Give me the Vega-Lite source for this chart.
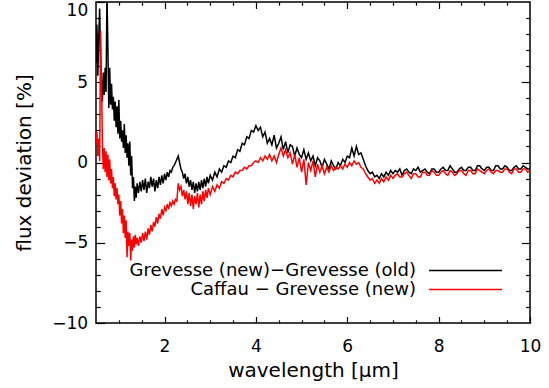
{
  "$schema": "https://vega.github.io/schema/vega-lite/v6.json",
  "width": 434,
  "height": 321,
  "autosize": {"type": "none"},
  "padding": {"left": 96, "top": 2, "right": 19, "bottom": 65},
  "background": "white",
  "config": {
    "view": {"stroke": "black", "strokeWidth": 1.5},
    "axis": {
      "grid": false,
      "domain": false,
      "tickColor": "black",
      "tickWidth": 1.2,
      "labelFont": "DejaVu Sans",
      "labelFontSize": 17,
      "labelColor": "black",
      "titleFont": "DejaVu Sans",
      "titleFontSize": 20,
      "titleFontWeight": "normal",
      "titleColor": "black"
    },
    "legend": {
      "orient": "none",
      "title": null,
      "padding": 0,
      "symbolType": "stroke",
      "symbolSize": 5329,
      "symbolStrokeWidth": 1.5,
      "labelAlign": "right",
      "labelBaseline": "middle",
      "labelOffset": -87,
      "labelFont": "DejaVu Sans",
      "labelFontSize": 18,
      "labelColor": "black",
      "labelLimit": 0
    }
  },
  "datasets": {
    "spectra": [
      {"w": 0.50, "grev": 6.2, "caff": 1.2},
      {"w": 0.52, "grev": 8.6, "caff": 1.9},
      {"w": 0.54, "grev": 5.4, "caff": 0.4},
      {"w": 0.56, "grev": 7.8, "caff": 1.5},
      {"w": 0.58, "grev": 9.6, "caff": 0.1},
      {"w": 0.60, "grev": 6.4, "caff": 8.2},
      {"w": 0.62, "grev": 5.0, "caff": 5.1},
      {"w": 0.64, "grev": 3.8, "caff": 1.3},
      {"w": 0.66, "grev": 5.6, "caff": -0.4},
      {"w": 0.68, "grev": 4.2, "caff": 0.9},
      {"w": 0.70, "grev": 5.9, "caff": -0.6},
      {"w": 0.72, "grev": 4.4, "caff": 0.7},
      {"w": 0.74, "grev": 10.6, "caff": -0.9},
      {"w": 0.76, "grev": 7.2, "caff": 0.5},
      {"w": 0.78, "grev": 3.4, "caff": -1.1},
      {"w": 0.80, "grev": 5.9, "caff": 0.2},
      {"w": 0.82, "grev": 3.6, "caff": -1.3},
      {"w": 0.84, "grev": 4.9, "caff": -0.4},
      {"w": 0.86, "grev": 3.3, "caff": -1.6},
      {"w": 0.88, "grev": 4.1, "caff": -0.9},
      {"w": 0.90, "grev": 2.6, "caff": -2.1},
      {"w": 0.92, "grev": 3.8, "caff": -1.3},
      {"w": 0.94, "grev": 2.2, "caff": -2.3},
      {"w": 0.96, "grev": 3.5, "caff": -1.6},
      {"w": 0.98, "grev": 1.8, "caff": -2.6},
      {"w": 1.00, "grev": 3.9, "caff": -2.0},
      {"w": 1.02, "grev": 1.5, "caff": -3.3},
      {"w": 1.04, "grev": 2.6, "caff": -2.4},
      {"w": 1.06, "grev": 1.3, "caff": -3.8},
      {"w": 1.08, "grev": 2.0, "caff": -2.9},
      {"w": 1.10, "grev": 0.9, "caff": -4.4},
      {"w": 1.12, "grev": 2.4, "caff": -3.3},
      {"w": 1.14, "grev": 0.6, "caff": -4.7},
      {"w": 1.16, "grev": 1.7, "caff": -3.6},
      {"w": 1.18, "grev": 0.3, "caff": -5.9},
      {"w": 1.20, "grev": 1.2, "caff": -4.3},
      {"w": 1.22, "grev": -0.2, "caff": -5.2},
      {"w": 1.24, "grev": 1.3, "caff": -4.4},
      {"w": 1.26, "grev": -0.8, "caff": -6.1},
      {"w": 1.28, "grev": 0.4, "caff": -4.8},
      {"w": 1.30, "grev": -1.6, "caff": -5.5},
      {"w": 1.32, "grev": -0.9, "caff": -4.6},
      {"w": 1.34, "grev": -2.4, "caff": -5.3},
      {"w": 1.36, "grev": -1.5, "caff": -4.5},
      {"w": 1.38, "grev": -2.2, "caff": -5.1},
      {"w": 1.40, "grev": -1.3, "caff": -4.7},
      {"w": 1.43, "grev": -1.9, "caff": -5.2},
      {"w": 1.46, "grev": -1.2, "caff": -4.6},
      {"w": 1.49, "grev": -1.8, "caff": -5.0},
      {"w": 1.52, "grev": -1.1, "caff": -4.4},
      {"w": 1.55, "grev": -1.7, "caff": -4.9},
      {"w": 1.58, "grev": -1.0, "caff": -4.3},
      {"w": 1.61, "grev": -1.9, "caff": -4.8},
      {"w": 1.64, "grev": -1.2, "caff": -4.1},
      {"w": 1.67, "grev": -1.6, "caff": -4.5},
      {"w": 1.70, "grev": -0.9, "caff": -3.9},
      {"w": 1.73, "grev": -1.5, "caff": -4.3},
      {"w": 1.76, "grev": -1.0, "caff": -3.7},
      {"w": 1.79, "grev": -1.8, "caff": -4.0},
      {"w": 1.82, "grev": -1.1, "caff": -3.4},
      {"w": 1.85, "grev": -1.6, "caff": -3.8},
      {"w": 1.88, "grev": -0.9, "caff": -3.2},
      {"w": 1.91, "grev": -1.4, "caff": -3.5},
      {"w": 1.94, "grev": -0.8, "caff": -2.9},
      {"w": 1.97, "grev": -1.3, "caff": -3.3},
      {"w": 2.00, "grev": -0.7, "caff": -2.8},
      {"w": 2.03, "grev": -1.1, "caff": -3.0},
      {"w": 2.06, "grev": -0.6, "caff": -2.6},
      {"w": 2.09, "grev": -0.9, "caff": -2.9},
      {"w": 2.12, "grev": -0.5, "caff": -2.5},
      {"w": 2.15, "grev": -0.6, "caff": -2.7},
      {"w": 2.18, "grev": -0.3, "caff": -2.4},
      {"w": 2.21, "grev": -0.2, "caff": -2.6},
      {"w": 2.24, "grev": 0.0, "caff": -2.3},
      {"w": 2.27, "grev": 0.2, "caff": -2.4},
      {"w": 2.30, "grev": 0.4, "caff": -1.3},
      {"w": 2.33, "grev": 0.0, "caff": -1.7},
      {"w": 2.36, "grev": -0.4, "caff": -1.5},
      {"w": 2.39, "grev": -0.6, "caff": -2.1},
      {"w": 2.42, "grev": -1.0, "caff": -1.7},
      {"w": 2.45, "grev": -0.7, "caff": -2.3},
      {"w": 2.48, "grev": -1.3, "caff": -1.8},
      {"w": 2.51, "grev": -0.9, "caff": -2.6},
      {"w": 2.54, "grev": -1.5, "caff": -1.9},
      {"w": 2.57, "grev": -1.1, "caff": -2.7},
      {"w": 2.60, "grev": -1.7, "caff": -2.0},
      {"w": 2.63, "grev": -1.2, "caff": -2.9},
      {"w": 2.66, "grev": -1.9, "caff": -2.1},
      {"w": 2.69, "grev": -1.3, "caff": -2.6},
      {"w": 2.72, "grev": -1.8, "caff": -1.9},
      {"w": 2.75, "grev": -1.2, "caff": -2.8},
      {"w": 2.78, "grev": -1.7, "caff": -2.0},
      {"w": 2.81, "grev": -1.1, "caff": -2.6},
      {"w": 2.84, "grev": -1.6, "caff": -1.8},
      {"w": 2.87, "grev": -1.0, "caff": -2.4},
      {"w": 2.90, "grev": -1.5, "caff": -1.7},
      {"w": 2.93, "grev": -0.9, "caff": -2.2},
      {"w": 2.96, "grev": -1.3, "caff": -1.6},
      {"w": 3.00, "grev": -0.8, "caff": -2.0},
      {"w": 3.05, "grev": -1.1, "caff": -1.5},
      {"w": 3.10, "grev": -0.6, "caff": -1.8},
      {"w": 3.15, "grev": -0.9, "caff": -1.4},
      {"w": 3.20, "grev": -0.4, "caff": -1.6},
      {"w": 3.25, "grev": -0.6, "caff": -1.2},
      {"w": 3.30, "grev": -0.2, "caff": -1.3},
      {"w": 3.35, "grev": -0.3, "caff": -1.0},
      {"w": 3.40, "grev": 0.1, "caff": -1.1},
      {"w": 3.45, "grev": 0.0, "caff": -0.8},
      {"w": 3.50, "grev": 0.4, "caff": -0.9},
      {"w": 3.55, "grev": 0.3, "caff": -0.6},
      {"w": 3.60, "grev": 0.8, "caff": -0.7},
      {"w": 3.65, "grev": 0.7, "caff": -0.5},
      {"w": 3.70, "grev": 1.2, "caff": -0.5},
      {"w": 3.75, "grev": 1.1, "caff": -0.3},
      {"w": 3.80, "grev": 1.6, "caff": -0.4},
      {"w": 3.85, "grev": 1.5, "caff": -0.2},
      {"w": 3.90, "grev": 2.0, "caff": -0.2},
      {"w": 3.95, "grev": 1.9, "caff": 0.0},
      {"w": 4.00, "grev": 2.3, "caff": 0.1},
      {"w": 4.05, "grev": 2.0, "caff": 0.0},
      {"w": 4.10, "grev": 2.2, "caff": 0.3},
      {"w": 4.15, "grev": 1.6, "caff": 0.1},
      {"w": 4.20, "grev": 1.9, "caff": 0.4},
      {"w": 4.25, "grev": 1.2, "caff": 0.2},
      {"w": 4.30, "grev": 1.5, "caff": 0.5},
      {"w": 4.35, "grev": 1.1, "caff": 0.1},
      {"w": 4.40, "grev": 1.7, "caff": 0.4},
      {"w": 4.45, "grev": 0.9, "caff": 0.0},
      {"w": 4.50, "grev": 1.2, "caff": 0.5},
      {"w": 4.55, "grev": 1.6, "caff": 0.9},
      {"w": 4.60, "grev": 0.8, "caff": 0.4},
      {"w": 4.65, "grev": 1.3, "caff": 0.8},
      {"w": 4.70, "grev": 0.6, "caff": 0.3},
      {"w": 4.75, "grev": 1.1, "caff": 0.6},
      {"w": 4.80, "grev": 1.0, "caff": -0.1},
      {"w": 4.85, "grev": 0.4, "caff": 0.5},
      {"w": 4.90, "grev": 0.9, "caff": -0.3},
      {"w": 4.95, "grev": 0.5, "caff": 0.3},
      {"w": 5.00, "grev": 0.3, "caff": -0.6},
      {"w": 5.05, "grev": 0.8, "caff": 0.2},
      {"w": 5.10, "grev": 0.2, "caff": -1.4},
      {"w": 5.15, "grev": 0.6, "caff": 0.0},
      {"w": 5.20, "grev": 0.1, "caff": -0.5},
      {"w": 5.25, "grev": 0.4, "caff": 0.1},
      {"w": 5.30, "grev": -0.2, "caff": -0.9},
      {"w": 5.35, "grev": 0.3, "caff": -0.1},
      {"w": 5.40, "grev": 0.1, "caff": -0.6},
      {"w": 5.45, "grev": -0.3, "caff": -0.2},
      {"w": 5.50, "grev": 0.2, "caff": -0.7},
      {"w": 5.55, "grev": -0.1, "caff": -0.3},
      {"w": 5.60, "grev": -0.4, "caff": -0.6},
      {"w": 5.65, "grev": 0.1, "caff": -0.2},
      {"w": 5.70, "grev": -0.2, "caff": -0.5},
      {"w": 5.75, "grev": -0.4, "caff": -0.3},
      {"w": 5.80, "grev": 0.0, "caff": -0.4},
      {"w": 5.85, "grev": -0.2, "caff": -0.2},
      {"w": 5.90, "grev": 0.2, "caff": -0.4},
      {"w": 5.95, "grev": 0.0, "caff": -0.1},
      {"w": 6.00, "grev": 0.4, "caff": -0.3},
      {"w": 6.05, "grev": 0.3, "caff": 0.0},
      {"w": 6.10, "grev": 0.9, "caff": -0.2},
      {"w": 6.15, "grev": 0.4, "caff": 0.1},
      {"w": 6.20, "grev": 1.0, "caff": -0.1},
      {"w": 6.25, "grev": 0.5, "caff": 0.0},
      {"w": 6.30, "grev": 0.6, "caff": -0.3},
      {"w": 6.35, "grev": 0.2, "caff": -0.4},
      {"w": 6.40, "grev": -0.2, "caff": -0.7},
      {"w": 6.45, "grev": -0.5, "caff": -0.9},
      {"w": 6.50, "grev": -0.7, "caff": -1.1},
      {"w": 6.55, "grev": -0.6, "caff": -1.0},
      {"w": 6.60, "grev": -0.9, "caff": -1.3},
      {"w": 6.65, "grev": -0.8, "caff": -1.1},
      {"w": 6.70, "grev": -1.0, "caff": -1.3},
      {"w": 6.75, "grev": -0.7, "caff": -1.0},
      {"w": 6.80, "grev": -0.9, "caff": -1.2},
      {"w": 6.85, "grev": -0.6, "caff": -0.9},
      {"w": 6.90, "grev": -0.8, "caff": -1.1},
      {"w": 6.95, "grev": -0.5, "caff": -0.8},
      {"w": 7.00, "grev": -0.7, "caff": -1.0},
      {"w": 7.05, "grev": -0.5, "caff": -0.8},
      {"w": 7.10, "grev": -0.6, "caff": -0.7},
      {"w": 7.15, "grev": -0.4, "caff": -0.9},
      {"w": 7.20, "grev": -0.8, "caff": -0.9},
      {"w": 7.25, "grev": -0.5, "caff": -0.7},
      {"w": 7.30, "grev": -0.4, "caff": -0.6},
      {"w": 7.35, "grev": -0.6, "caff": -0.8},
      {"w": 7.40, "grev": -0.7, "caff": -1.0},
      {"w": 7.45, "grev": -0.4, "caff": -0.7},
      {"w": 7.50, "grev": -0.5, "caff": -0.7},
      {"w": 7.55, "grev": -0.3, "caff": -0.9},
      {"w": 7.60, "grev": -0.6, "caff": -0.9},
      {"w": 7.65, "grev": -0.5, "caff": -0.6},
      {"w": 7.70, "grev": -0.4, "caff": -0.6},
      {"w": 7.75, "grev": -0.6, "caff": -0.8},
      {"w": 7.80, "grev": -0.7, "caff": -0.8},
      {"w": 7.85, "grev": -0.4, "caff": -0.5},
      {"w": 7.90, "grev": -0.4, "caff": -0.6},
      {"w": 7.95, "grev": -0.6, "caff": -0.8},
      {"w": 8.00, "grev": -0.6, "caff": -0.8},
      {"w": 8.05, "grev": -0.4, "caff": -0.6},
      {"w": 8.10, "grev": -0.3, "caff": -0.5},
      {"w": 8.15, "grev": -0.5, "caff": -0.7},
      {"w": 8.20, "grev": -0.5, "caff": -0.8},
      {"w": 8.25, "grev": -0.2, "caff": -0.5},
      {"w": 8.30, "grev": -0.4, "caff": -0.6},
      {"w": 8.35, "grev": -0.6, "caff": -0.8},
      {"w": 8.40, "grev": -0.6, "caff": -0.7},
      {"w": 8.45, "grev": -0.4, "caff": -0.5},
      {"w": 8.50, "grev": -0.3, "caff": -0.5},
      {"w": 8.55, "grev": -0.5, "caff": -0.7},
      {"w": 8.60, "grev": -0.5, "caff": -0.8},
      {"w": 8.65, "grev": -0.3, "caff": -0.5},
      {"w": 8.70, "grev": -0.3, "caff": -0.5},
      {"w": 8.75, "grev": -0.5, "caff": -0.7},
      {"w": 8.80, "grev": -0.5, "caff": -0.7},
      {"w": 8.85, "grev": -0.2, "caff": -0.4},
      {"w": 8.90, "grev": -0.2, "caff": -0.5},
      {"w": 8.95, "grev": -0.4, "caff": -0.6},
      {"w": 9.00, "grev": -0.5, "caff": -0.7},
      {"w": 9.05, "grev": -0.3, "caff": -0.5},
      {"w": 9.10, "grev": -0.3, "caff": -0.4},
      {"w": 9.15, "grev": -0.5, "caff": -0.6},
      {"w": 9.20, "grev": -0.5, "caff": -0.7},
      {"w": 9.25, "grev": -0.2, "caff": -0.5},
      {"w": 9.30, "grev": -0.2, "caff": -0.5},
      {"w": 9.35, "grev": -0.4, "caff": -0.6},
      {"w": 9.40, "grev": -0.4, "caff": -0.6},
      {"w": 9.45, "grev": -0.2, "caff": -0.4},
      {"w": 9.50, "grev": -0.3, "caff": -0.4},
      {"w": 9.55, "grev": -0.5, "caff": -0.6},
      {"w": 9.60, "grev": -0.5, "caff": -0.7},
      {"w": 9.65, "grev": -0.3, "caff": -0.4},
      {"w": 9.70, "grev": -0.2, "caff": -0.4},
      {"w": 9.75, "grev": -0.4, "caff": -0.6},
      {"w": 9.80, "grev": -0.4, "caff": -0.6},
      {"w": 9.85, "grev": -0.2, "caff": -0.4},
      {"w": 9.90, "grev": -0.3, "caff": -0.4},
      {"w": 9.95, "grev": -0.4, "caff": -0.6},
      {"w": 10.00, "grev": -0.4, "caff": -0.5}
    ],
    "anchor": [{"w": 5, "v": 0}]
  },
  "resolve": {"axis": {"x": "independent", "y": "independent"}},
  "layer": [
    {
      "data": {"name": "spectra"},
      "mark": {"type": "line", "strokeWidth": 1.5, "clip": true},
      "encoding": {
        "x": {
          "field": "w",
          "type": "quantitative",
          "scale": {"domain": [0.5, 10], "nice": false, "zero": false},
          "axis": {
            "orient": "bottom",
            "title": "wavelength [μm]",
            "values": [2, 4, 6, 8, 10],
            "format": "d",
            "tickSize": -6.5,
            "labelPadding": 22,
            "labelFlush": false,
            "labelOverlap": false,
            "titlePadding": 6
          }
        },
        "y": {
          "field": "grev",
          "type": "quantitative",
          "scale": {"domain": [-10, 10], "nice": false, "zero": false},
          "axis": {
            "orient": "left",
            "title": "flux deviation [%]",
            "values": [-10, -5, 0, 5, 10],
            "tickSize": -8.7,
            "labelPadding": 17,
            "labelFlush": false,
            "labelOverlap": false,
            "labelBaseline": {"condition": {"test": "datum.value === 10", "value": "top"}, "value": "middle"},
            "titlePadding": 17
          }
        },
        "color": {
          "datum": "Grevesse (new)−Grevesse (old)",
          "type": "nominal",
          "scale": {"range": ["#000000"]},
          "legend": {"legendX": 332, "legendY": 231}
        }
      }
    },
    {
      "data": {"name": "spectra"},
      "mark": {"type": "line", "strokeWidth": 1.5, "clip": true},
      "encoding": {
        "x": {"field": "w", "type": "quantitative", "axis": null},
        "y": {"field": "caff", "type": "quantitative", "axis": null},
        "stroke": {
          "datum": "Caffau − Grevesse (new)",
          "type": "nominal",
          "scale": {"range": ["#ff0000"]},
          "legend": {"legendX": 332, "legendY": 250}
        }
      }
    },
    {
      "data": {"name": "anchor"},
      "mark": {"type": "point", "opacity": 0},
      "encoding": {
        "x": {
          "field": "w",
          "type": "quantitative",
          "axis": {
            "orient": "bottom",
            "title": null,
            "labels": false,
            "values": [1, 1.5, 2.5, 3, 3.5, 4.5, 5, 5.5, 6.5, 7, 7.5, 8.5, 9, 9.5],
            "tickSize": -3.2
          }
        },
        "y": {
          "field": "v",
          "type": "quantitative",
          "axis": {
            "orient": "left",
            "title": null,
            "labels": false,
            "values": [-9, -8, -7, -6, -4, -3, -2, -1, 1, 2, 3, 4, 6, 7, 8, 9],
            "tickSize": -4.3
          }
        }
      }
    },
    {
      "data": {"name": "anchor"},
      "mark": {"type": "point", "opacity": 0},
      "encoding": {
        "x": {
          "field": "w",
          "type": "quantitative",
          "axis": {
            "orient": "top",
            "title": null,
            "labels": false,
            "values": [2, 4, 6, 8],
            "tickSize": -6.5
          }
        },
        "y": {
          "field": "v",
          "type": "quantitative",
          "axis": {
            "orient": "right",
            "title": null,
            "labels": false,
            "values": [-5, 0, 5],
            "tickSize": -8.7
          }
        }
      }
    },
    {
      "data": {"name": "anchor"},
      "mark": {"type": "point", "opacity": 0},
      "encoding": {
        "x": {
          "field": "w",
          "type": "quantitative",
          "axis": {
            "orient": "top",
            "title": null,
            "labels": false,
            "values": [1, 1.5, 2.5, 3, 3.5, 4.5, 5, 5.5, 6.5, 7, 7.5, 8.5, 9, 9.5],
            "tickSize": -3.2
          }
        },
        "y": {
          "field": "v",
          "type": "quantitative",
          "axis": {
            "orient": "right",
            "title": null,
            "labels": false,
            "values": [-9, -8, -7, -6, -4, -3, -2, -1, 1, 2, 3, 4, 6, 7, 8, 9],
            "tickSize": -4.3
          }
        }
      }
    }
  ]
}
